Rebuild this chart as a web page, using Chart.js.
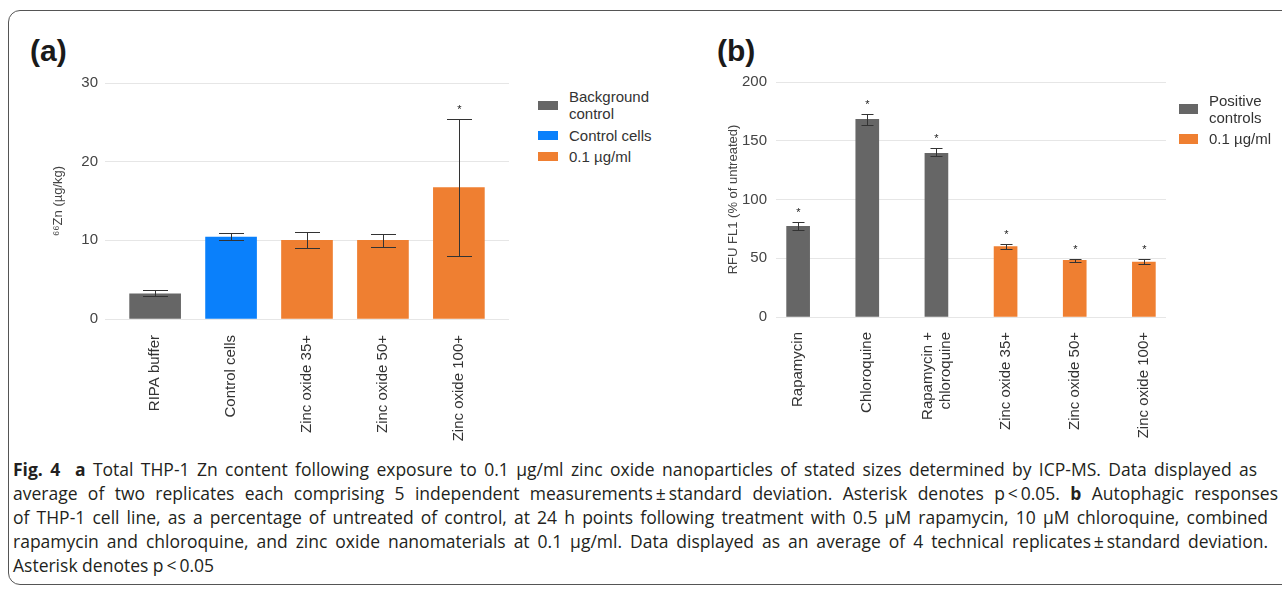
<!DOCTYPE html>
<html>
<head>
<meta charset="utf-8">
<script src="https://cdn.jsdelivr.net/npm/chart.js@4.4.1/dist/chart.umd.min.js"></script>
<style>
  body { margin: 0; width: 1282px; height: 590px; overflow: hidden; background: #fff; position: relative;
         font-family: "Liberation Sans", Arial, sans-serif; }
  .frame { position: absolute; left: 8px; top: 10px; width: 1300px; height: 575px; border: 1px solid #555;
           border-radius: 12px; box-sizing: border-box; }
  canvas { position: absolute; top: 0; }
  #chartA { left: 0; }
  #chartB { left: 690px; }
  .panel { position: absolute; top: 36px; font-weight: bold; font-size: 30px; line-height: 1; color: #1a1a1a; }
  .legend { position: absolute; font-size: 15px; line-height: 17px; color: #333; }
  .legend .item { display: flex; align-items: center; }
  .legend .sw { flex: none; margin-right: 11px; }
  .caption { position: absolute; left: 13px; top: 457px; font-family: "Open Sans", "Noto Sans", sans-serif;
             font-size: 17.5px; line-height: 24px; color: #231f20; }
  .caption div { white-space: nowrap; text-align: justify; text-align-last: justify; }
  .caption div.last { text-align-last: left; }
</style>
</head>
<body>
<div class="frame"></div>
<div class="panel" style="left:30px">(a)</div>
<div class="panel" style="left:717px">(b)</div>
<canvas id="chartA" width="520" height="450"></canvas>
<canvas id="chartB" width="490" height="450"></canvas>
<div class="legend" id="legendA" style="left:538px; top:88px"></div>
<div class="legend" id="legendB" style="left:1179px; top:92px"></div>
<div class="caption">
  <div style="width:1244px"><b>Fig. 4</b>&nbsp; <b>a</b> Total THP-1 Zn content following exposure to 0.1 µg/ml zinc oxide nanoparticles of stated sizes determined by ICP-MS. Data displayed as</div>
  <div style="width:1265px">average of two replicates each comprising 5 independent measurements&thinsp;±&thinsp;standard deviation. Asterisk denotes p&thinsp;&lt;&thinsp;0.05. <b>b</b> Autophagic responses</div>
  <div style="width:1255px">of THP-1 cell line, as a percentage of untreated of control, at 24 h points following treatment with 0.5 µM rapamycin, 10 µM chloroquine, combined</div>
  <div style="width:1255px">rapamycin and chloroquine, and zinc oxide nanomaterials at 0.1 µg/ml. Data displayed as an average of 4 technical replicates&thinsp;±&thinsp;standard deviation.</div>
  <div class="last">Asterisk denotes p&thinsp;&lt;&thinsp;0.05</div>
</div>
<script>
// (a) total Zn content by ICP-MS
const catsA = ['RIPA buffer', 'Control cells', 'Zinc oxide 35+', 'Zinc oxide 50+', 'Zinc oxide 100+'];
const groupA = [0, 1, 2, 2, 2];
const valuesA = [3.2, 10.4, 10.0, 10.0, 16.7];
const lowA = [2.9, 10.0, 9.0, 9.2, 8.0];
const highA = [3.7, 10.9, 11.1, 10.8, 25.4];
const sigA = [false, false, false, false, true];
const legendA = [['Background', 'control'], ['Control cells'], ['0.1 µg/ml']];
const colorsA = ['#666666', '#0a80fb', '#ef7f31'];

// (b) autophagic response, RFU FL1
const catsB = ['Rapamycin', 'Chloroquine', ['Rapamycin +', 'chloroquine'], 'Zinc oxide 35+', 'Zinc oxide 50+', 'Zinc oxide 100+'];
const groupB = [0, 0, 0, 1, 1, 1];
const valuesB = [77.2, 168.2, 139.2, 60.0, 48.2, 46.8];
const lowB = [74.4, 163.0, 137.0, 58.0, 47.1, 45.4];
const highB = [80.6, 173.0, 143.5, 62.2, 49.4, 49.4];
const sigB = [true, true, true, true, true, true];
const legendB = [['Positive', 'controls'], ['0.1 µg/ml']];
const colorsB = ['#666666', '#ef7f31'];

Chart.defaults.font.family = '"Liberation Sans", Arial, sans-serif';
Chart.defaults.font.size = 15;
Chart.defaults.color = '#444';

const errorBars = {
	id: 'errorBars',
	afterDatasetsDraw(chart, args, opts) {
		const ctx = chart.ctx;
		const x = chart.scales.x, y = chart.scales.y;
		ctx.save();
		ctx.strokeStyle = '#333';
		ctx.fillStyle = '#222';
		ctx.lineWidth = 1;
		ctx.font = '11px "Liberation Sans", Arial, sans-serif';
		ctx.textAlign = 'center';
		opts.low.forEach((lo, i) => {
			const px = Math.round(x.getPixelForValue(i)) + 0.5;
			const yLo = Math.round(y.getPixelForValue(lo)) + 0.5;
			const yHi = Math.round(y.getPixelForValue(opts.high[i])) + 0.5;
			const c = opts.cap / 2;
			ctx.beginPath();
			ctx.moveTo(px, yLo); ctx.lineTo(px, yHi);
			ctx.moveTo(px - c, yLo); ctx.lineTo(px + c, yLo);
			ctx.moveTo(px - c, yHi); ctx.lineTo(px + c, yHi);
			ctx.stroke();
			if (opts.sig[i]) {
				ctx.fillText('*', px, yHi - 13 + 6.5);
			}
		});
		ctx.restore();
	}
};

function barChart(id, cats, groups, values, colors, low, high, sig, yMax, yStep, yTitle, look) {
	return new Chart(document.getElementById(id), {
		type: 'bar',
		data: {
			datasets: [{
				data: values.map((v, i) => ({ x: i, y: v })),
				backgroundColor: groups.map(g => colors[g]),
				barThickness: look.bar
			}]
		},
		options: {
			responsive: false,
			animation: false,
			layout: { padding: { top: look.top, right: look.right, left: 0, bottom: 0 } },
			plugins: {
				legend: { display: false },
				tooltip: { enabled: false },
				errorBars: { low: low, high: high, sig: sig, cap: look.cap }
			},
			scales: {
				x: {
					type: 'linear',
					offset: false,
					min: look.xMin,
					max: look.xMax,
					grid: { display: false },
					border: { display: false },
					afterBuildTicks: s => { s.ticks = cats.map((c, i) => ({ value: i })); },
					afterFit: s => { s.height = look.xHeight; },
					afterUpdate: s => {
						// centre two-line labels on their bar
						const perUnit = s.width / (s.max - s.min);
						s.ticks.forEach((t, i) => {
							if (Array.isArray(cats[i])) t.value = i - (cats[i].length - 1) * 8.5 / perUnit;
						});
					},
					ticks: {
						autoSkip: false,
						minRotation: 90,
						maxRotation: 90,
						padding: look.xPad,
						color: '#333',
						callback: (v, i) => cats[i]
					}
				},
				y: {
					min: 0,
					max: yMax,
					border: { display: false },
					grid: { color: '#e6e6e6', drawTicks: false },
					afterFit: s => { s.width = look.yWidth; },
					ticks: { stepSize: yStep, padding: look.yPad, color: '#444' },
					title: {
						display: true,
						text: yTitle,
						font: { size: 13 },
						color: '#444',
						padding: { top: look.titlePad, bottom: 0 }
					}
				}
			}
		},
		plugins: [errorBars]
	});
}

barChart('chartA', catsA, groupA, valuesA, colorsA, lowA, highA, sigA, 30, 10, '⁶⁶Zn (µg/kg)',
	{ bar: 51, cap: 25, top: 83, right: 11, xMin: -0.66, xMax: 4.66, xHeight: 131, xPad: 8, yWidth: 105, yPad: 7, titlePad: 51 });
barChart('chartB', catsB, groupB, valuesB, colorsB, lowB, highB, sigB, 200, 50, 'RFU FL1 (% of untreated)',
	{ bar: 23, cap: 12, top: 82, right: 14, xMin: -0.32, xMax: 5.32, xHeight: 133, xPad: 7, yWidth: 86, yPad: 9, titlePad: 36 });

function buildLegend(id, items, colors, sw, gap) {
	const el = document.getElementById(id);
	items.forEach((lines, i) => {
		const row = document.createElement('div');
		row.className = 'item';
		if (i > 0) row.style.marginTop = gap + 'px';
		const box = document.createElement('span');
		box.className = 'sw';
		box.style.width = sw[0] + 'px';
		box.style.height = sw[1] + 'px';
		box.style.background = colors[i];
		const txt = document.createElement('span');
		txt.innerHTML = lines.join('<br>');
		row.append(box, txt);
		el.append(row);
	});
}
buildLegend('legendA', legendA, colorsA, [20, 9], 4.5);
buildLegend('legendB', legendB, colorsB, [19, 10], 4);

// squeeze any caption line that is wider than its column
document.querySelectorAll('.caption div').forEach(line => {
	let ls = 0;
	while (line.scrollWidth > line.clientWidth + 1 && ls > -2) {
		ls -= 0.05;
		line.style.letterSpacing = ls + 'px';
	}
});
</script>
</body>
</html>
